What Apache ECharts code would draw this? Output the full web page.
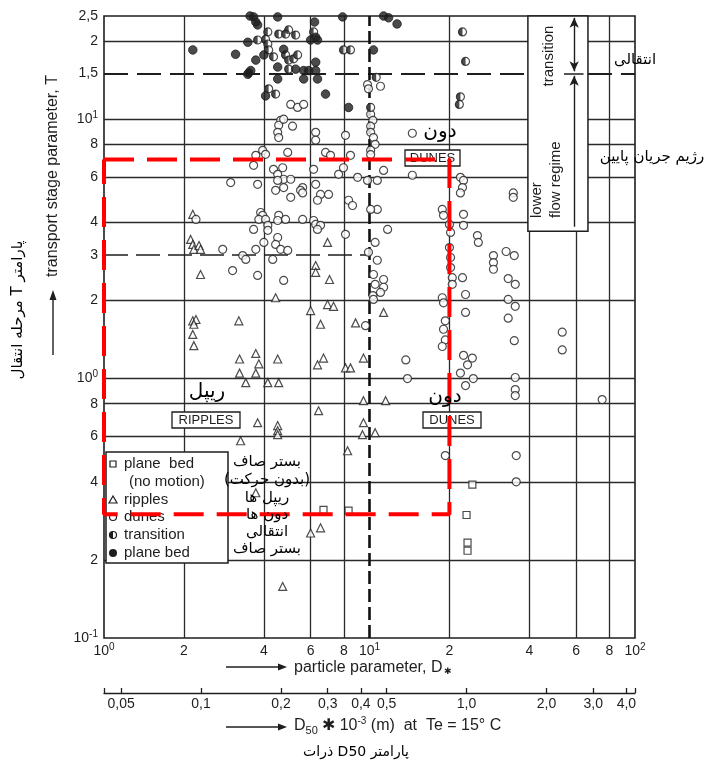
<!DOCTYPE html>
<html>
<head>
<meta charset="utf-8">
<title>Bed forms diagram</title>
<script src="https://cdn.jsdelivr.net/npm/echarts@6.0.0/dist/echarts.min.js"></script>
<style>
html,body{margin:0;padding:0;background:#fff;}
#chart{width:713px;height:761px;}
</style>
</head>
<body>
<div id="chart"></div>
<script>
// ---- data: [particle parameter D*, transport stage parameter T]
const planeBedNoMotion = [[6.71,0.312],[8.34,0.31],[24.4,0.39],[23.2,0.298],[23.4,0.233],[23.4,0.217]];

const ripples = [
[2.16,4.3],[2.12,3.44],[2.16,3.29],[2.18,3.15],[2.28,3.26],[2.31,3.15],[2.31,2.52],
[2.16,1.67],[2.22,1.69],[2.18,1.62],[2.16,1.48],[2.18,1.34],
[3.22,1.67],[3.24,1.19],[3.73,1.25],[3.83,1.14],[4.51,1.19],[3.24,1.05],[3.73,1.05],[3.42,0.965],[4.14,0.965],[4.55,0.965],
[4.43,2.05],[6.27,2.73],[6.27,2.57],[6.95,3.35],[7.07,2.41],[6.0,1.83],[6.95,1.93],[7.32,1.9],[6.54,1.62],[8.86,1.64],[11.3,1.8],
[6.37,1.13],[6.71,1.2],[8.12,1.1],[8.48,1.1],[9.49,1.2],
[9.49,0.822],[11.5,0.822],[6.43,0.752],[3.79,0.676],[4.51,0.659],[4.51,0.63],[4.51,0.608],[3.27,0.576],
[9.49,0.676],[9.41,0.608],[10.5,0.619],[8.27,0.527],[3.73,0.363],[6.0,0.254],[6.54,0.266],[4.71,0.158]
];

const dunes = [
[9.83,13.6],[9.91,13.1],[11.0,13.4],
[5.05,11.4],[5.36,11.1],[5.65,11.4],[10.1,10.45],
[4.63,9.9],[4.55,9.48],[4.75,10.0],[5.13,9.4],[4.51,8.9],[4.55,8.5],
[6.27,8.9],[6.27,8.3],[8.12,8.67],[4.92,7.45],
[3.73,7.26],[3.96,7.59],[4.06,7.32],[6.83,7.45],[7.13,7.26],[8.48,7.26],
[3.66,6.64],[3.79,5.61],[3.0,5.7],
[4.35,6.41],[4.71,6.5],[4.51,6.13],[4.75,5.87],[4.51,5.81],[5.05,5.87],[4.43,5.32],[4.75,5.45],
[6.16,6.41],[5.6,5.45],[5.5,5.32],[6.27,5.61],[6.54,5.13],
[7.65,6.13],[7.98,6.5],[9.02,5.97],
[10.3,9.9],[10.1,9.4],[10.1,8.9],[10.35,8.5],[10.5,8.0],[10.1,7.6],[10.1,7.3],
[14.5,8.83],[11.3,6.35],[14.5,6.08],[9.83,5.81],[10.7,5.81],
[22.0,5.97],[22.6,5.81],[22.4,5.45],[22.0,5.2],[34.8,5.2],[34.8,5.0],
[10.7,4.49],[10.1,4.49],[18.8,4.49],[19.0,4.26],[22.6,4.3],[22.6,3.9],[11.7,3.76],[25.5,3.56],[25.7,3.35],
[3.89,4.37],[3.96,4.26],[3.83,4.11],[4.06,4.11],[4.14,3.9],[4.14,3.73],[3.66,3.76],
[4.55,4.26],[4.83,4.11],[4.51,4.07],[5.6,4.11],
[6.16,4.07],[6.27,3.93],[6.54,3.9],[6.37,3.76],
[4.0,3.35],[4.51,3.5],[4.43,3.29],[4.63,3.15],[3.73,3.15],[4.92,3.12],[8.12,3.6],
[8.34,4.87],[8.63,4.65],[5.05,5.0],[5.6,5.2],[6.37,4.87],[7.01,5.13],
[2.22,4.11],[2.8,3.15],[3.33,2.98],[3.42,2.88],[4.32,2.88],[3.05,2.61],[3.79,2.5],[4.75,2.39],
[10.5,3.35],[9.91,3.07],[10.7,2.86],
[10.35,2.52],[11.3,2.41],[10.5,2.31],[11.3,2.25],[11.0,2.15],[10.3,2.09],[10.35,2.02],[9.66,1.6],
[20.0,3.93],[20.2,3.66],[20.0,3.2],[20.2,2.93],[20.2,2.68],[20.5,2.45],[20.5,2.31],[18.8,2.05],[19.0,1.96],
[19.3,1.67],[19.0,1.55],[19.3,1.41],[18.8,1.33],
[22.4,2.45],[23.0,2.11],[23.0,1.8],
[22.6,1.23],[24.4,1.2],[23.4,1.13],[22.0,1.05],[24.6,1.0],[23.0,0.94],
[29.3,2.98],[29.3,2.8],[29.3,2.64],[32.7,3.09],[35.1,2.98],[33.3,2.43],[35.4,2.31],[33.3,2.02],[35.4,1.9],[33.3,1.71],[35.1,1.4],
[35.4,1.01],[35.4,0.907],[35.4,0.86],
[53.2,1.51],[53.2,1.29],[75.2,0.83],
[13.7,1.18],[13.9,1.0],
[19.3,0.505],[35.7,0.505],[35.7,0.4]
];

const transition = [
[3.79,20.2],[4.14,21.7],[4.96,22.1],[4.55,21.3],[4.83,21.3],[5.27,21.1],[6.16,21.7],[4.06,20.3],[4.14,19.5],
[4.17,18.5],[4.35,17.4],[4.83,17.7],[4.96,16.9],[5.18,17.1],[5.36,17.7],[4.96,15.6],[4.17,13.1],[4.43,12.5],
[7.98,18.5],[8.48,18.5],[22.4,21.7],[23.0,16.7],[10.6,14.5],[22.0,12.2],[21.8,11.4],[10.1,11.1]
];

const planeBed = [
[3.55,25.0],[3.66,24.8],[3.73,23.7],[3.79,23.1],[4.51,24.8],[6.21,23.7],[7.92,24.8],[11.3,25.0],[11.8,24.6],[12.7,23.3],
[2.16,18.5],[3.13,17.8],[3.48,19.8],[3.48,14.9],[3.57,15.4],[3.51,15.1],[4.06,12.3],[6.83,12.5],[8.34,11.1],
[6.27,20.7],[6.0,20.2],[6.37,20.2],[6.27,16.6],[4.51,15.9],[5.65,15.4],[5.9,15.4],[6.27,15.4],
[4.51,14.3],[5.65,14.3],[6.37,14.3],[10.35,18.5],[4.75,18.6],[4.0,17.7],[3.73,16.9],[5.27,15.6]
];

// ---- axis tick values and labels
const xLabelValues = [1.00001,2,4,6,8,10,20,40,60,80,99.999];
const xGridValues = [2,4,6,8,20,40,60,80];
const yLabelValues = [0.10001,0.2,0.4,0.6,0.8,1,2,3,4,6,8,10,15,20,24.999];
const yGridValues = [0.2,0.4,0.6,0.8,1,2,4,6,8,10,20];
const d50Ticks = [0.05,0.1,0.2,0.3,0.4,0.5,1,2,3,4];
const d50Labels = ['0,05','0,1','0,2','0,3','0,4','0,5','1,0','2,0','3,0','4,0'];
const dStarPerD50mm = 23.2;   // D* = 23.2 * D50[mm] at Te = 15 C

// ---- red dashed region (D*, T)
const redBoxDStar = [1, 20, 20, 1, 1];
const redBoxT = [7, 7, 0.3, 0.3, 7];

const INK = '#1e1e1e';
const FONT = '"Liberation Sans", Arial, sans-serif';
const FA = '"DejaVu Sans", sans-serif';
const rtl = s => '\u202B' + s + '\u202C';

function isPow10(v){ const l = Math.log10(v); return Math.abs(l - Math.round(l)) < 1e-3; }
function powLabel(v){ const e = Math.round(Math.log10(v)); return '{b|10}{s|' + (e < 0 ? '-' : '') + Math.abs(e) + '}'; }
function mantissa(v){ const e = Math.floor(Math.log10(v) + 1e-9); const m = Math.round(v / Math.pow(10, e) * 10) / 10; return '{b|' + String(m).replace('.', ',') + '}'; }
function logLabel(v){ return isPow10(v) ? powLabel(v) : mantissa(v); }
const labelRich = {
  b: {fontSize: 14, lineHeight: 18, fontFamily: FONT, color: INK},
  s: {fontSize: 10, lineHeight: 10, fontFamily: FONT, color: INK, verticalAlign: 'top'}
};

const chart = echarts.init(document.getElementById('chart'), null, {renderer: 'canvas'});

function txt(x, y, text, opt){
  opt = opt || {};
  return {type: 'text', x: x, y: y, rotation: opt.rot || 0, z: opt.z || 30, silent: true,
    style: {text: text, fill: opt.color || INK, font: opt.font || ('15px ' + FONT),
      textAlign: opt.align || 'center', textVerticalAlign: opt.valign || 'middle', rich: opt.rich}};
}
function fa(x, y, text, size, opt){
  opt = opt || {};
  return txt(x, y, rtl(text), Object.assign({font: size + 'px ' + FA, color: '#000'}, opt));
}
function boxLabel(x, y, w, h, text){
  return [
    {type: 'rect', z: 3, silent: true, shape: {x: x, y: y, width: w, height: h},
     style: {fill: '#fff', stroke: INK, lineWidth: 1.3}},
    txt(x + w / 2, y + h / 2 + 0.5, text, {font: '13px ' + FONT, z: 4})
  ];
}
function arrowRight(x1, x2, y){
  return [
    {type: 'line', z: 30, silent: true, shape: {x1: x1, y1: y, x2: x2 - 6, y2: y}, style: {stroke: INK, lineWidth: 1.4}},
    {type: 'polygon', z: 30, silent: true, shape: {points: [[x2, y], [x2 - 9, y - 3.5], [x2 - 9, y + 3.5]]}, style: {fill: INK}}
  ];
}

const P = Math.PI / 2;
const graphics = [].concat(
  // y axis titles
  [txt(53, 176, 'transport stage parameter, T', {rot: P, font: '16px ' + FONT})],
  [{type: 'line', z: 30, silent: true, shape: {x1: 53, y1: 355, x2: 53, y2: 298}, style: {stroke: INK, lineWidth: 1.4}},
   {type: 'polygon', z: 30, silent: true, shape: {points: [[53, 290], [49.5, 300], [56.5, 300]]}, style: {fill: INK}}],
  [fa(18, 310, 'پارامتر T مرحله انتقال', 15, {rot: P})],
  // x axis titles
  arrowRight(226, 287, 667),
  [txt(294, 668, '{t|particle parameter, D}{s|✱}', {align: 'left', rich: {
     t: {fontSize: 16, fontFamily: FONT, color: INK},
     s: {fontSize: 9, fontFamily: FONT, color: INK, verticalAlign: 'bottom', padding: [6, 0, 0, 1]}}})],
  arrowRight(226, 287, 727),
  [txt(294, 726, '{t|D}{sub|50}{t| ✱ 10}{sup|-3}{t| (m)  at  Te = 15° C}', {align: 'left', rich: {
     t: {fontSize: 16, fontFamily: FONT, color: INK, lineHeight: 20},
     sub: {fontSize: 11, fontFamily: FONT, color: INK, verticalAlign: 'bottom', lineHeight: 12},
     sup: {fontSize: 10, fontFamily: FONT, color: INK, verticalAlign: 'top', lineHeight: 10}}})],
  [fa(356, 752, 'پارامتر D50 ذرات', 14)],
  // right box texts
  [txt(549, 56, 'transition', {rot: P, font: '15px ' + FONT})],
  [txt(537, 218, 'lower', {rot: P, font: '15px ' + FONT, align: 'left'})],
  [txt(556, 218, 'flow regime', {rot: P, font: '15px ' + FONT, align: 'left'})],
  [fa(635, 60, 'انتقالی', 15)],
  [fa(652, 157, 'رژیم جریان پایین', 15)],
  // bed form labels
  boxLabel(405, 150, 55, 16, 'DUNES'),
  boxLabel(172, 412, 68, 16, 'RIPPLES'),
  boxLabel(423, 412, 58, 16, 'DUNES'),
  [fa(440, 132, 'دون', 20)],
  [fa(445, 397, 'دون', 20)],
  [fa(207, 392, 'ریپل', 20)],
  // legend
  [{type: 'rect', z: 3, silent: true, shape: {x: 106, y: 452, width: 122, height: 111}, style: {fill: '#fff', stroke: INK, lineWidth: 1.5}},
   {type: 'rect', z: 4, silent: true, shape: {x: 110, y: 461, width: 6, height: 6}, style: {fill: '#fff', stroke: INK, lineWidth: 1.2}},
   {type: 'polygon', z: 4, silent: true, shape: {points: [[113, 496], [109, 503], [117, 503]]}, style: {fill: '#fff', stroke: INK, lineWidth: 1.2}},
   {type: 'circle', z: 4, silent: true, shape: {cx: 113, cy: 517, r: 3.5}, style: {fill: '#fff', stroke: INK, lineWidth: 1.2}},
   {type: 'circle', z: 4, silent: true, shape: {cx: 113, cy: 535, r: 3.5}, style: {fill: '#fff', stroke: INK, lineWidth: 1.2}},
   {type: 'sector', z: 5, silent: true, shape: {cx: 113, cy: 535, r: 3.5, r0: 0, startAngle: Math.PI / 2, endAngle: Math.PI * 1.5}, style: {fill: INK}},
   {type: 'circle', z: 4, silent: true, shape: {cx: 113, cy: 553, r: 4}, style: {fill: INK}},
   txt(124, 464, 'plane  bed', {align: 'left', z: 5}),
   txt(129, 482, '(no motion)', {align: 'left', z: 5}),
   txt(124, 500, 'ripples', {align: 'left', z: 5}),
   txt(124, 517, 'dunes', {align: 'left', z: 5}),
   txt(124, 535, 'transition', {align: 'left', z: 5}),
   txt(124, 553, 'plane bed', {align: 'left', z: 5})],
  [fa(267, 462, 'بستر صاف', 15),
   fa(267, 480, '(بدون حرکت)', 15),
   fa(267, 498, 'ریپل ها', 15),
   fa(267, 515, 'دون ها', 15),
   fa(267, 532, 'انتقالی', 15),
   fa(267, 549, 'بستر صاف', 15)]
);

const guideLine = (a, b, style, extraA, extraB) => [
  Object.assign({coord: a, lineStyle: style}, extraA || {}),
  Object.assign({coord: b, lineStyle: style}, extraB || {})
];
const dashStyle = {color: INK, width: 1.8, type: [24, 9]};
const arrowEnd = {symbol: 'arrow', symbolSize: [7, 10]};

const option = {
  animation: false,
  backgroundColor: '#fff',
  grid: {left: 104, right: 78, top: 16, bottom: 123, show: true, borderColor: INK, borderWidth: 1.6,
         backgroundColor: 'transparent', outerBoundsMode: 'none', containLabel: false},
  xAxis: [
    {type: 'log', logBase: 10, min: 1, max: 100, gridIndex: 0,
     axisLine: {show: false}, axisTick: {show: false, customValues: xGridValues},
     splitLine: {show: true, lineStyle: {color: '#2a2a2a', width: 1.3}},
     minorTick: {show: false}, minorSplitLine: {show: false},
     axisLabel: {customValues: xLabelValues, formatter: logLabel, rich: labelRich, margin: 4, color: INK}},
    {type: 'log', logBase: 10, min: 1 / dStarPerD50mm, max: 100 / dStarPerD50mm, gridIndex: 0,
     position: 'bottom', offset: 55,
     axisLine: {show: true, onZero: false, lineStyle: {color: INK, width: 1.3}},
     axisTick: {show: true, inside: true, length: 5, customValues: d50Ticks.concat([1.0002 / dStarPerD50mm, 99.98 / dStarPerD50mm]), lineStyle: {color: INK, width: 1.3}},
     splitLine: {show: false},
     axisLabel: {customValues: d50Ticks, margin: 4, color: INK, fontSize: 14, fontFamily: FONT,
       formatter: v => { let best = 0; d50Ticks.forEach((t, i) => { if (Math.abs(Math.log(t / v)) < Math.abs(Math.log(d50Ticks[best] / v))) best = i; }); return d50Labels[best]; }}}
  ],
  yAxis: {type: 'log', logBase: 10, min: 0.1, max: 25,
    axisLine: {show: false}, axisTick: {show: false, customValues: yGridValues},
    splitLine: {show: true, lineStyle: {color: '#2a2a2a', width: 1.3}},
    minorTick: {show: false}, minorSplitLine: {show: false},
    axisLabel: {customValues: yLabelValues, formatter: logLabel, rich: labelRich, margin: 6, color: INK}},
  series: [
    {name: 'guides', type: 'line', data: [], z: 4, silent: true,
     markArea: {silent: true, itemStyle: {color: '#fff', borderColor: INK, borderWidth: 1.5},
       label: {show: false}, data: [[{coord: [39.5, 24.99]}, {coord: [66.5, 3.7]}]]},
     markLine: {silent: true, symbol: ['none', 'none'], label: {show: false}, emphasis: {disabled: true},
       data: [
         guideLine([1, 15], [39.5, 15], dashStyle),
         guideLine([66.5, 15], [100, 15], dashStyle),
         guideLine([1, 3], [10, 3], {color: INK, width: 1.6, type: [24, 8]}),
         guideLine([10, 0.1], [10, 25], {color: '#111', width: 2.6, type: [13, 5]}),
         guideLine([54, 15], [64, 15], {color: INK, width: 1.5, type: 'solid'}),
         guideLine([59, 15.3], [59, 24.6], {color: INK, width: 1.4, type: 'solid'}, arrowEnd, arrowEnd),
         guideLine([59, 14.7], [59, 3.85], {color: INK, width: 1.4, type: 'solid'}, arrowEnd, {symbol: 'none'})
       ]}},
    {name: 'plane bed (no motion)', type: 'scatter', data: planeBedNoMotion, symbol: 'rect', symbolSize: 7, z: 6,
     itemStyle: {color: '#fff', borderColor: INK, borderWidth: 1.2}},
    {name: 'ripples', type: 'scatter', data: ripples, symbol: 'triangle', symbolSize: 8, z: 6,
     itemStyle: {color: '#fff', borderColor: INK, borderWidth: 1.2}},
    {name: 'dunes', type: 'scatter', data: dunes, symbol: 'circle', symbolSize: 8, z: 6,
     itemStyle: {color: '#fff', borderColor: INK, borderWidth: 1.2}},
    {name: 'transition', type: 'scatter', data: transition, symbol: 'circle', symbolSize: 8, z: 6,
     itemStyle: {color: '#fff', borderColor: INK, borderWidth: 1.2}},
    {name: 'transition-fill', type: 'scatter', data: transition, silent: true, z: 7,
     symbol: 'path://M0,0M20,20M10,0A10,10,0,0,0,10,20Z', symbolSize: 8, itemStyle: {color: INK}},
    {name: 'plane bed', type: 'scatter', data: planeBed, symbol: 'circle', symbolSize: 8.5, z: 6,
     itemStyle: {color: INK, borderColor: INK, borderWidth: 1}},
    {name: 'region', type: 'line', data: redBoxDStar.map((d, i) => [d, redBoxT[i]]), z: 10, silent: true,
     symbol: 'none', lineStyle: {color: '#ff0000', width: 4, type: [30, 13]}}
  ],
  graphic: {elements: graphics}
};
chart.setOption(option);
</script>
</body>
</html>
